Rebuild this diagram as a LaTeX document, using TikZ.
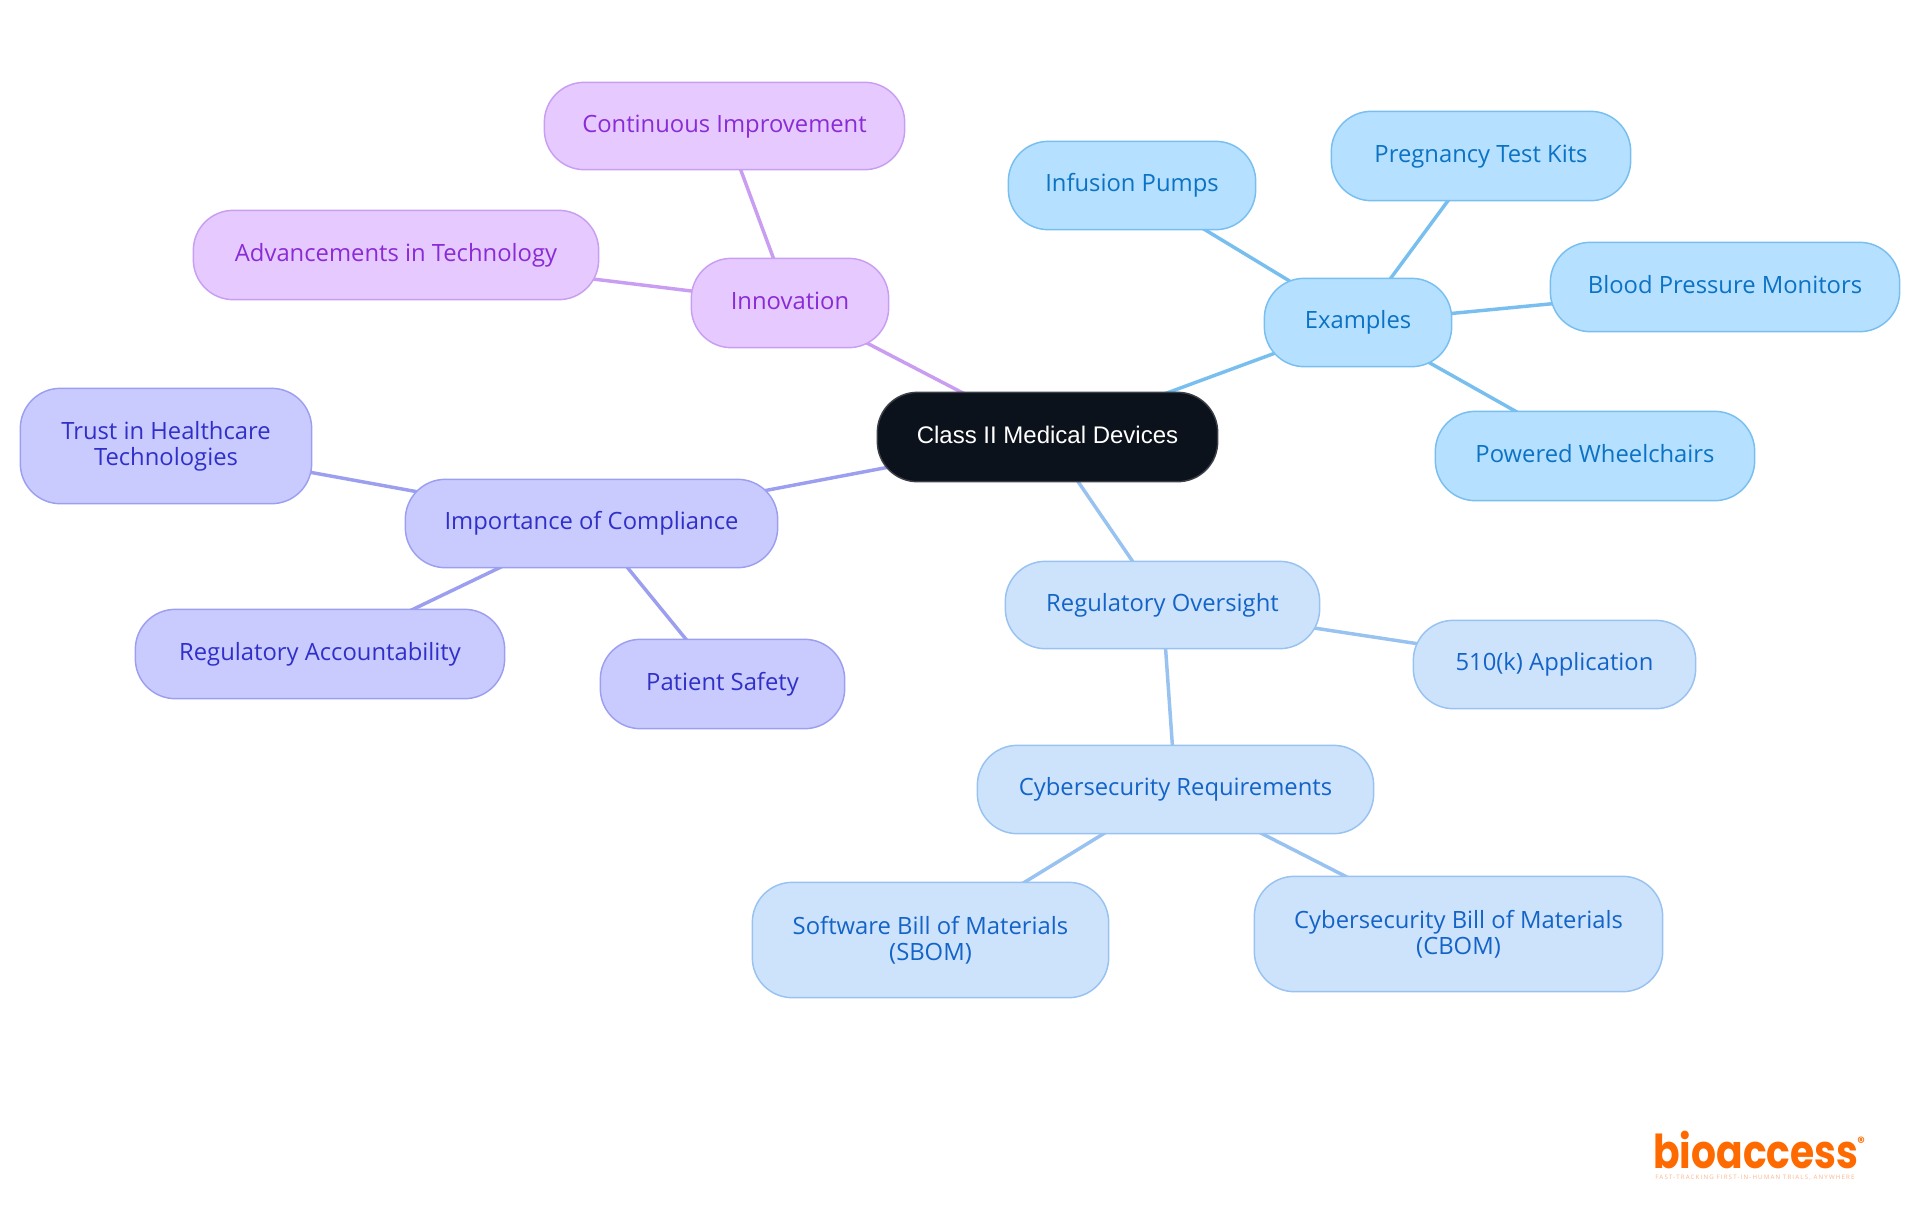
\documentclass[tikz,border=0pt]{standalone}
\usepackage{fontspec}
\setmainfont{Open Sans}
\newfontfamily\rootfont{Liberation Sans}
\newfontfamily\logofont[FakeStretch=0.84]{Poppins}
\newfontfamily\logomark{Poppins}
\newfontfamily\tagfont[LetterSpace=19]{Open Sans}
\usetikzlibrary{backgrounds}
\definecolor{pfill}{HTML}{E6CAFF}\definecolor{pline}{HTML}{C99EF2}\definecolor{ptext}{HTML}{8A2BD6}
\definecolor{ifill}{HTML}{C9CBFF}\definecolor{iline}{HTML}{9C9FF0}\definecolor{itext}{HTML}{3030C8}
\definecolor{sfill}{HTML}{B5E0FF}\definecolor{sline}{HTML}{78BFF0}\definecolor{stext}{HTML}{0B72C4}
\definecolor{bfill}{HTML}{CDE3FC}\definecolor{bline}{HTML}{98C2F0}\definecolor{btext}{HTML}{1464C8}
\definecolor{rfill}{HTML}{0B121B}\definecolor{rline}{HTML}{3B4048}\definecolor{logoc}{HTML}{FF6A00}\definecolor{tagc}{HTML}{F8B68A}
\tikzset{
  mbox/.style={rectangle,rounded corners=30pt,line width=1.1pt,inner sep=0pt,align=center,font=\fontsize{17.85}{19.5}\selectfont},
  oneline/.style={text height=14pt,text depth=5pt},
  pbox/.style={mbox,oneline,draw=pline,fill=pfill,text=ptext},
  ibox/.style={mbox,draw=iline,fill=ifill,text=itext},
  sbox/.style={mbox,oneline,draw=sline,fill=sfill,text=stext},
  bbox/.style={mbox,draw=bline,fill=bfill,text=btext},
  rbox/.style={mbox,oneline,draw=rline,fill=rfill,text=white,font=\rootfont\fontsize{18}{19.5}\selectfont},
  plink/.style={line width=2.6pt,draw=pline},
  ilink/.style={line width=2.6pt,draw=iline},
  slink/.style={line width=2.6pt,draw=sline},
  blink/.style={line width=2.6pt,draw=bline},
}
\newcommand{\mnode}[7]{\node[#2,minimum width={(#5-#3)*0.75pt-0.5pt},minimum height={(#6-#4)*0.75pt-0.5pt}] (#1) at ({(#3+#5)/2},{(#4+#6)/2}) {#7};}
\begin{document}
\begin{tikzpicture}[x=0.75pt,y=-0.75pt]
\useasboundingbox (0,0) rectangle (1920,1215);
\mnode{root}{rbox}{877}{392}{1218}{482}{Class II Medical Devices}
\mnode{innov}{pbox}{691}{258}{889}{348}{Innovation}
\mnode{cont}{pbox}{544}{82}{905}{170}{Continuous Improvement}
\mnode{adv}{pbox}{193}{210}{599}{300}{Advancements in Technology}
\mnode{comp}{ibox,oneline}{405}{479}{778}{568}{Importance of Compliance}
\mnode{trust}{ibox}{20}{388}{312}{504}{Trust in Healthcare\\Technologies}
\mnode{acct}{ibox,oneline}{135}{609}{505}{699}{Regulatory Accountability}
\mnode{safety}{ibox,oneline}{600}{639}{845}{729}{Patient Safety}
\mnode{exam}{sbox}{1264}{278}{1452}{367}{Examples}
\mnode{infus}{sbox}{1008}{141}{1256}{230}{Infusion Pumps}
\mnode{preg}{sbox}{1331}{111}{1631}{201}{Pregnancy Test Kits}
\mnode{bp}{sbox}{1550}{242}{1900}{332}{Blood Pressure Monitors}
\mnode{wheel}{sbox}{1435}{411}{1755}{501}{Powered Wheelchairs}
\mnode{reg}{bbox,oneline}{1005}{561}{1320}{649}{Regulatory Oversight}
\mnode{app}{bbox,oneline}{1413}{620}{1696}{709}{510(k) Application}
\mnode{cyber}{bbox,oneline}{977}{745}{1374}{834}{Cybersecurity Requirements}
\mnode{sbom}{bbox}{752}{882}{1109}{998}{Software Bill of Materials\\(SBOM)}
\mnode{cbom}{bbox}{1254}{876}{1663}{992}{Cybersecurity Bill of Materials\\(CBOM)}
\begin{scope}[on background layer]
\draw[plink] (root.center) -- (innov.center);
\draw[plink] (innov.center) -- (cont.center);
\draw[plink] (innov.center) -- (adv.center);
\draw[ilink] (root.center) -- (comp.center);
\draw[ilink] (comp.center) -- (trust.center);
\draw[ilink] (comp.center) -- (acct.center);
\draw[ilink] (comp.center) -- (safety.center);
\draw[slink] (root.center) -- (exam.center);
\draw[slink] (exam.center) -- (infus.center);
\draw[slink] (exam.center) -- (preg.center);
\draw[slink] (exam.center) -- (bp.center);
\draw[slink] (exam.center) -- (wheel.center);
\draw[blink] (root.center) -- (reg.center);
\draw[blink] (reg.center) -- (app.center);
\draw[blink] (reg.center) -- (cyber.center);
\draw[blink] (cyber.center) -- (sbom.center);
\draw[blink] (cyber.center) -- (cbom.center);
\end{scope}
\node[anchor=base west,inner sep=0pt,text=logoc,font=\logofont\bfseries\fontsize{35}{35}\selectfont] (logo) at (1653,1168) {bioaccess};
\node[anchor=center,inner sep=0pt,text=logoc,font=\logomark\bfseries\fontsize{11}{11}\selectfont] (logor) at (1861,1142) {®};
\node[anchor=base west,inner sep=0pt,text=tagc,font=\tagfont\fontsize{4.6}{5}\selectfont] (tag) at (1655,1179) {FAST-TRACKING FIRST-IN-HUMAN TRIALS, ANYWHERE};
\end{tikzpicture}
\end{document}
